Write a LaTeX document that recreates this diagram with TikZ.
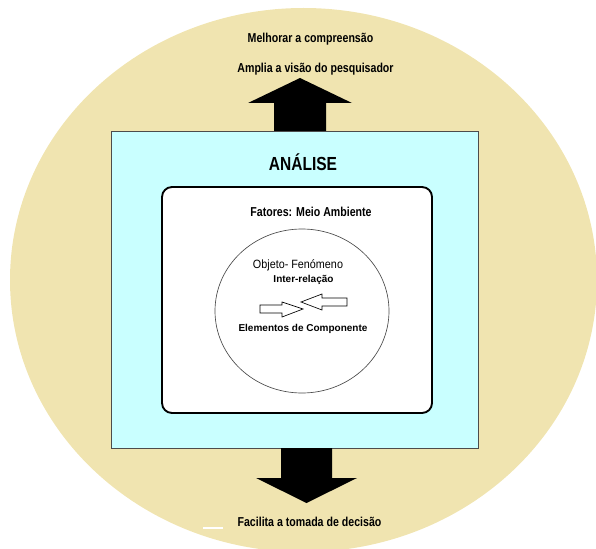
\documentclass[tikz,border=0pt]{standalone}
\usepackage{fontspec}
\setmainfont{Liberation Sans}
\newfontfamily\condfont{Liberation Sans}[FakeStretch=0.82]
\newfontfamily\semifont{Liberation Sans}[FakeStretch=0.9]
\usetikzlibrary{positioning}
\definecolor{sand}{RGB}{240,228,176}
\definecolor{aqua}{RGB}{201,255,255}

\begin{document}
\begin{tikzpicture}[
  x=0.75pt, y=-0.75pt,
  lbl/.style={inner sep=0pt, anchor=base, font=\condfont\bfseries\fontsize{9.7}{11}\selectfont},
  inlbl/.style={inner sep=0pt, anchor=base, font=\bfseries\fontsize{7.5}{9}\selectfont},
  blockarr/.style={fill=black},
  hollow/.style={draw=black, line width=0.5pt, fill=white, line join=miter}
]
\useasboundingbox (0,0) rectangle (596,549);

% background disc and frames
\fill[sand] (303.5,280) ellipse [x radius=293.5, y radius=272];
\draw[white, line width=1.2pt] (203,528) -- (223,528);
\filldraw[fill=aqua, draw=black!70, line width=0.6pt] (111,131) rectangle (478,448);
\filldraw[fill=white, draw=black, line width=1.4pt, rounded corners=7.5pt] (162,187) rectangle (432,413);
\draw[black!70, line width=0.5pt] (302,311) ellipse [x radius=87, y radius=82];

% block arrows
\fill[blockarr] (274,131) -- (274,103) -- (248,103) -- (300,78) -- (352,103) -- (326,103) -- (326,131) -- cycle;
\fill[blockarr] (281,448) -- (281,478) -- (256,478) -- (306.5,503) -- (357,478) -- (332,478) -- (332,448) -- cycle;

% inter-relation arrows
\draw[hollow] (260,305) -- (282,305) -- (282,302) -- (303,309) -- (282,317) -- (282,313) -- (260,313) -- cycle;
\draw[hollow] (347,298) -- (322,298) -- (322,294) -- (301,302) -- (322,310) -- (322,306) -- (347,306) -- cycle;

% labels
\node[lbl] (goalA) at (310.5,43) {Melhorar a compreensão};
\node[lbl] (goalB) at (315.5,73) {Amplia a visão do pesquisador};
\node[lbl, font=\condfont\bfseries\fontsize{14.2}{16}\selectfont] (title) at (303,170.5) {ANÁLISE};
\node[lbl] (factors) at (311,216.5) {Fatores: Meio Ambiente};
\node[inlbl, font=\semifont\fontsize{9}{11}\selectfont] (object) at (298,268.3) {Objeto- Fenómeno};
\node[inlbl] (relation) at (303.5,282.5) {Inter-relação};
\node[inlbl] (elements) at (303,331.5) {Elementos de Componente};
\node[lbl] (decision) at (309.5,526.5) {Facilita a tomada de decisão};
\end{tikzpicture}
\end{document}
